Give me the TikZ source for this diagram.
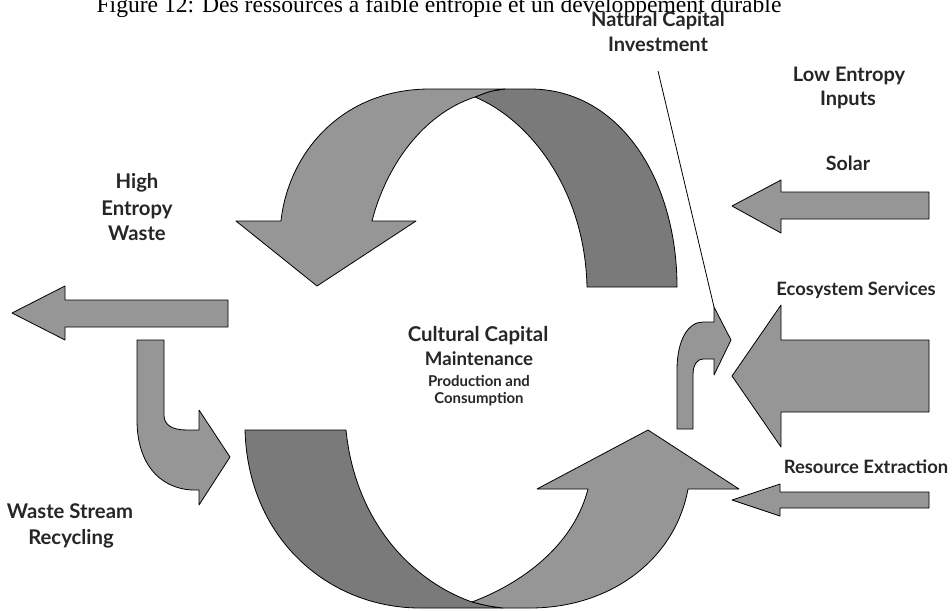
\documentclass[tikz,border=0pt]{standalone}
\usepackage{fontspec}
\setmainfont{Liberation Serif}
\newfontfamily\labfont{Lato}
\definecolor{lg}{RGB}{150,150,150}
\definecolor{dg}{RGB}{122,122,122}
\begin{document}
\begin{tikzpicture}[x=0.75pt,y=-0.75pt,
  light/.style={fill=lg,draw=black,line width=0.6pt,line join=round},
  dark/.style={fill=dg,draw=black,line width=0.6pt,line join=round},
  lbl/.style={font=\labfont\bfseries\fontsize{#1}{#1}\selectfont,anchor=base,inner sep=0pt,text=black!85},
  lbl/.default=15]
\useasboundingbox (0,0) rectangle (952,610);
\fill[white] (0,0) rectangle (952,610);

% caption
\node[font=\fontsize{17.7}{19}\selectfont,anchor=base,inner sep=0pt] (cap) at (439,13) {Figure 12: Des ressources à faible entropie et un développement durable};

% top arc
\draw[dark] (475,97) .. controls (530,120) and (585,190) .. (587,287) -- (677,287)
  .. controls (677,180) and (620,89) .. (530,89) -- (505,89) .. controls (490,91) .. (475,97) -- cycle;
\draw[light] (281,221) .. controls (288,155) and (340,89) .. (430,89) -- (505,89)
  .. controls (490,91) .. (475,97) .. controls (420,115) and (385,170) .. (372,221)
  -- (416,221) -- (317,286) -- (236,221) -- cycle;

% bottom arc
\draw[dark] (245,430) -- (346,430) .. controls (355,520) and (410,580) .. (472,602)
  .. controls (488,606) .. (503,608) -- (420,608) .. controls (330,608) and (248,540) .. (245,430) -- cycle;
\draw[light] (472,602) .. controls (530,580) and (575,540) .. (588,489) -- (537,489) -- (648,430)
  -- (739,489) -- (688,489) .. controls (675,560) and (610,608) .. (530,608) -- (503,608)
  .. controls (488,606) .. (472,602) -- cycle;

% waste out
\draw[light] (228,300) -- (65,300) -- (65,286) -- (12,313) -- (65,340) -- (65,327) -- (228,327) -- cycle;
% recycling
\draw[light] (137,340) -- (164,340) -- (164,415) .. controls (164,425) and (172,430) .. (187,430)
  -- (199,430) -- (199,410) -- (230,457) -- (199,505) -- (199,490) -- (192,490)
  .. controls (158,488) and (137,462) .. (137,420) -- cycle;
% inputs
\draw[light] (929,192) -- (781,192) -- (781,180) -- (732,206) -- (781,233) -- (781,219) -- (929,219) -- cycle;
\draw[light] (929,340) -- (781,340) -- (781,305) -- (732,376) -- (781,447) -- (781,412) -- (929,412) -- cycle;
\draw[light] (929,492) -- (780,492) -- (780,484) -- (732,500) -- (780,516) -- (780,508) -- (929,508) -- cycle;
% natural capital investment
\draw[light] (677,429) -- (677,370) .. controls (677,340) and (688,322) .. (703,322) -- (714,322)
  -- (714,307) -- (731,340) -- (714,375) -- (714,359) -- (703,359)
  .. controls (697,359) and (693,365) .. (693,375) -- (693,429) -- cycle;

% leader
\coordinate (ls) at (658,71);
\coordinate (le) at (714,307);
\draw[line width=0.6pt] (ls) -- (le);

% labels
\node[lbl] (nc1) at (658,27) {Natural Capital};
\node[lbl] (nc2) at (658,52) {Investment};
\node[lbl] (le1) at (849,81) {Low Entropy};
\node[lbl] (le2) at (848,105) {Inputs};
\node[lbl=14.7] (sol) at (848,170) {Solar};
\node[lbl=15.2] (hw1) at (137,188) {High};
\node[lbl=15.2] (hw2) at (137,215) {Entropy};
\node[lbl=15.2] (hw3) at (137,240) {Waste};
\node[lbl=13.8] (eco) at (856,295) {Ecosystem Services};
\node[lbl=15.3] (cc1) at (478,341) {Cultural Capital};
\node[lbl=14] (cc2) at (479,365) {Maintenance};
\node[lbl=11.2] (cc3) at (479,386) {Production and};
\node[lbl=11.2] (cc4) at (479,403) {Consumption};
\node[lbl=13.8] (res) at (866,473) {Resource Extraction};
\node[lbl=15.2] (ws1) at (70,518) {Waste Stream};
\node[lbl=15.2] (ws2) at (71,544) {Recycling};
\end{tikzpicture}
\end{document}
